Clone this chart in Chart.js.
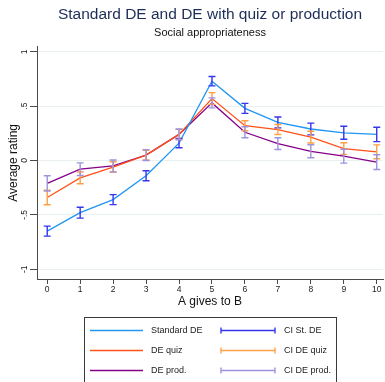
<!DOCTYPE html>
<html><head>
<meta charset="UTF-8">
<title>Standard DE and DE with quiz or production</title>
<style>
  html, body { margin: 0; padding: 0; background: #fff; }
  canvas { display: block; }
</style>
<script src="https://cdn.jsdelivr.net/npm/chart.js@4.4.0/dist/chart.umd.min.js"></script>
</head>
<body>
<canvas id="chart" width="385" height="382"></canvas>
<script>
// amount A gives to B
const amounts = [0, 1, 2, 3, 4, 5, 6, 7, 8, 9, 10];
const yTicks = [-1, -0.5, 0, 0.5, 1];

// mean ratings
const standardDE = [-0.65, -0.48, -0.36, -0.14, 0.16, 0.73, 0.48, 0.35, 0.29, 0.255, 0.24];
const quizDE     = [-0.34, -0.16, -0.06, 0.05, 0.24, 0.57, 0.32, 0.285, 0.215, 0.11, 0.08];
const prodDE     = [-0.21, -0.08, -0.05, 0.05, 0.24, 0.53, 0.26, 0.155, 0.085, 0.04, -0.015];

// half width of the confidence intervals
const ciStandardDE = [0.046, 0.05, 0.046, 0.046, 0.043, 0.043, 0.046, 0.05, 0.054, 0.06, 0.066];
const ciQuizDE     = [0.067, 0.054, 0.048, 0.045, 0.046, 0.054, 0.046, 0.046, 0.054, 0.054, 0.064];
const ciProdDE     = [0.07, 0.058, 0.055, 0.05, 0.05, 0.046, 0.05, 0.054, 0.06, 0.064, 0.068];

const colors = {
  std: '#2196f3', stdCI: '#3535f0',
  quiz: '#ff5219', quizCI: '#ffa044',
  prod: '#86008a', prodCI: '#9d93dd'
};

const ciSets = [
  { mean: standardDE, half: ciStandardDE, color: colors.stdCI },
  { mean: quizDE, half: ciQuizDE, color: colors.quizCI },
  { mean: prodDE, half: ciProdDE, color: colors.prodCI }
];

const font = "'Liberation Sans', Arial, Helvetica, sans-serif";
const axisColor = '#4a4a4a';

function points(vals) {
  return amounts.map((a, i) => ({ x: a, y: vals[i] }));
}

// error bars with caps, drawn through the chart's scales
const errorBars = {
  id: 'errorBars',
  afterDatasetsDraw(chart) {
    const { ctx, scales: { x, y } } = chart;
    ciSets.forEach(s => {
      ctx.save();
      ctx.strokeStyle = s.color;
      ctx.lineWidth = 1.4;
      amounts.forEach((a, i) => {
        const px = x.getPixelForValue(a);
        const lo = y.getPixelForValue(s.mean[i] - s.half[i]);
        const hi = y.getPixelForValue(s.mean[i] + s.half[i]);
        ctx.beginPath();
        ctx.moveTo(px, lo); ctx.lineTo(px, hi);
        ctx.moveTo(px - 3.5, lo); ctx.lineTo(px + 3.5, lo);
        ctx.moveTo(px - 3.5, hi); ctx.lineTo(px + 3.5, hi);
        ctx.stroke();
      });
      ctx.restore();
    });
  }
};

// Stata style boxed legend, two columns
const boxLegend = {
  id: 'boxLegend',
  afterDraw(chart) {
    const { ctx, chartArea } = chart;
    const cx = (chartArea.left + chartArea.right) / 2;
    const left = cx - 126, right = cx + 126, top = 317;
    ctx.save();
    ctx.strokeStyle = '#3a3a3a';
    ctx.lineWidth = 1;
    ctx.strokeRect(left + 0.5, top + 0.5, right - left, 80);
    ctx.font = '9px ' + font;
    ctx.textBaseline = 'middle';
    ctx.fillStyle = '#222';
    const rows = [
      ['Standard DE', colors.std, 'CI St. DE', colors.stdCI],
      ['DE quiz', colors.quiz, 'CI DE quiz', colors.quizCI],
      ['DE prod.', colors.prod, 'CI DE prod.', colors.prodCI]
    ];
    rows.forEach((r, i) => {
      const yy = 330.5 + i * 20;
      ctx.lineWidth = 1.4;
      ctx.strokeStyle = r[1];
      ctx.beginPath();
      ctx.moveTo(left + 6, yy); ctx.lineTo(left + 59, yy);
      ctx.stroke();
      ctx.fillText(r[0], left + 67, yy);
      ctx.strokeStyle = r[3];
      ctx.beginPath();
      ctx.moveTo(left + 137, yy); ctx.lineTo(left + 191, yy);
      ctx.moveTo(left + 137, yy - 3); ctx.lineTo(left + 137, yy + 3);
      ctx.moveTo(left + 191, yy - 3); ctx.lineTo(left + 191, yy + 3);
      ctx.stroke();
      ctx.fillText(r[2], left + 200, yy);
    });
    ctx.restore();
  }
};

const lineStyle = { borderWidth: 1.3, pointRadius: 0, tension: 0, fill: false };

new Chart(document.getElementById('chart'), {
  type: 'line',
  data: {
    datasets: [
      { label: 'Standard DE', data: points(standardDE), borderColor: colors.std, ...lineStyle },
      { label: 'DE quiz', data: points(quizDE), borderColor: colors.quiz, ...lineStyle },
      { label: 'DE prod.', data: points(prodDE), borderColor: colors.prod, ...lineStyle }
    ]
  },
  options: {
    responsive: false,
    animation: false,
    layout: { padding: { left: 0, right: 2, top: 0, bottom: 71 } },
    plugins: {
      legend: { display: false },
      tooltip: { enabled: false },
      title: {
        display: true,
        text: 'Standard DE and DE with quiz or production',
        fullSize: false,
        color: '#1e2d57',
        font: { family: font, size: 15.5, weight: 'normal' },
        padding: { top: 5, bottom: 3 }
      },
      subtitle: {
        display: true,
        text: 'Social appropriateness',
        fullSize: false,
        color: '#111',
        font: { family: font, size: 11, weight: 'normal' },
        padding: { top: 0, bottom: 7 }
      }
    },
    scales: {
      x: {
        type: 'linear',
        min: -0.31,
        max: 10.19,
        afterBuildTicks: axis => { axis.ticks = amounts.map(v => ({ value: v })); },
        afterFit: axis => { axis.height = 32; },
        grid: { drawOnChartArea: false, tickLength: 5, tickColor: axisColor, tickWidth: 1 },
        border: { color: axisColor, width: 1 },
        ticks: { color: '#222', padding: 1, font: { family: font, size: 8.5 }, maxRotation: 0 },
        title: { display: true, text: 'A gives to B', color: '#111', font: { family: font, size: 12 }, padding: { top: 0, bottom: 2 } }
      },
      y: {
        min: -1.09,
        max: 1.046,
        afterBuildTicks: axis => { axis.ticks = yTicks.map(v => ({ value: v })); },
        afterFit: axis => { axis.width = 37; },
        grid: { color: '#e9f0f2', lineWidth: 1, tickLength: 7, tickColor: axisColor },
        border: { color: axisColor, width: 1 },
        ticks: {
          color: '#222',
          padding: 0,
          minRotation: 90,
          maxRotation: 90,
          crossAlign: 'center',
          font: { family: font, size: 8.5 },
          callback: v => v === 0 ? '0' : String(v).replace('0.', '.')
        },
        title: { display: true, text: 'Average rating', color: '#111', font: { family: font, size: 12 }, padding: { top: 6, bottom: 0 } }
      }
    }
  },
  plugins: [errorBars, boxLegend]
});
</script>
</body></html>
